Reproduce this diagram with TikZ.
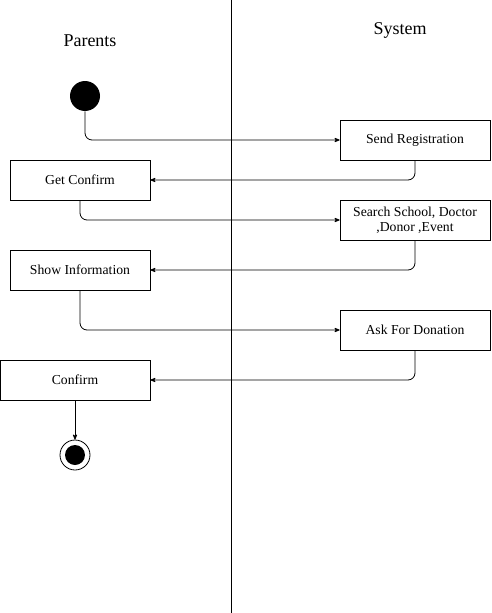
\documentclass[tikz,border=0pt]{standalone}
\usepackage{fontspec}
\setmainfont{Liberation Serif}
\usetikzlibrary{arrows}

\begin{document}
\begin{tikzpicture}[x=1pt,y=-1pt,->,>=stealth',line width=0.8pt,
                    rounded corners=7pt]
\tikzstyle{activity}=[draw=black,rectangle,minimum height=40pt,inner sep=0pt,
                      align=center,font=\fontsize{13.7}{15}\selectfont,rounded corners=0pt]
\tikzstyle{lane}=[font=\fontsize{18}{20}\selectfont]

\useasboundingbox (0,0) rectangle (491,613);

\coordinate (top) at (231,0);
\coordinate (bottom) at (231,613);
\draw[-] (top) -- (bottom);

\node[lane] 	(parents) 	at (90,41)	{Parents};
\node[lane] 	(system) 	at (400,30)	{System};

\node[circle,fill=black,minimum size=30pt,inner sep=0pt] 	(start) 	at (85,96)	{};
\node[activity,minimum width=150pt]	(send) 	at (415,140)	{Send Registration};
\node[activity,minimum width=140pt]	(getconf) 	at (80,180)	{Get Confirm};
\node[activity,minimum width=150pt]	(search) 	at (415,220)	{Search School, Doctor\\,Donor ,Event};
\node[activity,minimum width=140pt]	(showinfo) 	at (80,270)	{Show Information};
\node[activity,minimum width=150pt]	(donation) 	at (415,330)	{Ask For Donation};
\node[activity,minimum width=150pt]	(confirm) 	at (75,380)	{Confirm};
\node[circle,draw=black,minimum size=30pt,inner sep=0pt] 	(end) 	at (75,455)	{};
\node[circle,fill=black,minimum size=20pt,inner sep=0pt] 	(endin) 	at (end)	{};

\draw	(start)	|-	(send);
\draw	(send)	|-	(getconf);
\draw	(getconf)	|-	(search);
\draw	(search)	|-	(showinfo);
\draw	(showinfo)	|-	(donation);
\draw	(donation)	|-	(confirm);
\draw	(confirm)	--	(end);

\end{tikzpicture}
\end{document}
